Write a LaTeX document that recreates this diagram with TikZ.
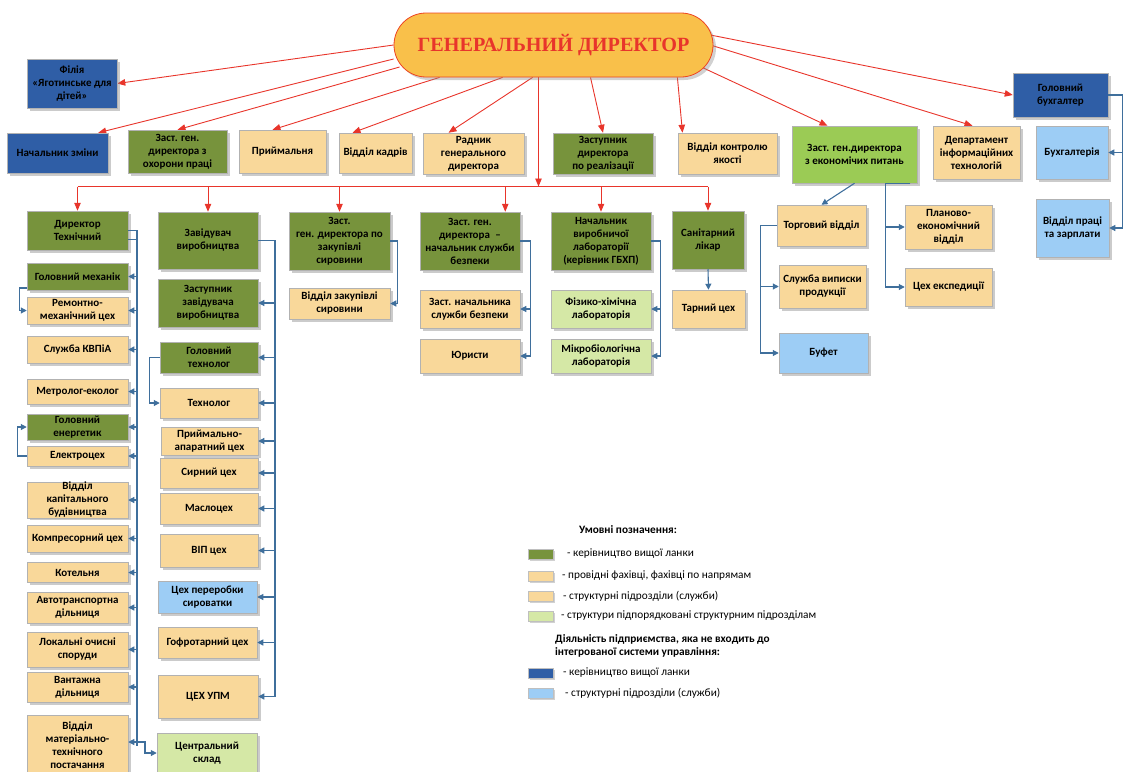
\documentclass[tikz,border=0pt]{standalone}
\usepackage{fontspec}
\setmainfont{Carlito}
\newfontfamily\titlefont{Liberation Serif}
\usetikzlibrary{arrows.meta,shadows,backgrounds}

\definecolor{dgreen}{HTML}{77933C}
\definecolor{sand}{HTML}{F9D89A}
\definecolor{pgreen}{HTML}{D5E8A6}
\definecolor{bgreen}{HTML}{9BCB55}
\definecolor{dblue}{HTML}{2F5EA6}
\definecolor{lblue}{HTML}{9DCDF5}
\definecolor{lnred}{HTML}{E8352B}
\definecolor{lnblue}{HTML}{3F6F9C}
\definecolor{gdfill}{HTML}{F9C04A}

\tikzset{
  box/.style={draw=black!30, line width=.5pt, align=center, inner sep=0pt,
    font=\bfseries\fontsize{11}{13}\selectfont,
    drop shadow={shadow xshift=2.5pt, shadow yshift=-2.5pt, fill=black!45, opacity=.45}},
  wh/.style 2 args={minimum width=#1, minimum height=#2},
  lead/.style={box, fill=dgreen},
  spec/.style={box, fill=sand},
  sub/.style={box, fill=pgreen},
  ecbox/.style={box, fill=bgreen},
  outlead/.style={box, fill=dblue},
  outsub/.style={box, fill=lblue},
  redarr/.style={draw=lnred, line width=.9pt, -{Triangle[length=8pt,width=6.5pt]}},
  redln/.style={draw=lnred, line width=.9pt},
  bluearr/.style={draw=lnblue, line width=1.1pt, -{Triangle[length=6pt,width=6pt]}},
  blueln/.style={draw=lnblue, line width=1.1pt},
  swatch/.style={draw=black!25, line width=.4pt, minimum width=25, minimum height=10, inner sep=0pt,
    drop shadow={shadow xshift=1.5pt, shadow yshift=-1.5pt, fill=black!45, opacity=.4}},
  legtxt/.style={anchor=west, inner sep=0pt, font=\fontsize{11.3}{13}\selectfont},
}

\begin{document}
\begin{tikzpicture}[x=1pt,y=-1pt]
  \useasboundingbox (0,0) rectangle (1134,771);
  \clip (0,0) rectangle (1134,771);

  % director
  \node[draw=lnred!80!orange, fill=gdfill, line width=.8pt, rounded corners=32pt, wh={319}{64},
    drop shadow={shadow xshift=3pt, shadow yshift=-3pt, fill=black!45, opacity=.4},
    font=\titlefont\bfseries\fontsize{20.2}{23}\selectfont, text=lnred] (gd) at (553.5,45) {ГЕНЕРАЛЬНИЙ ДИРЕКТОР};

  % top rows
  \node[outlead, wh={90}{49}] (filia) at (72,83.5) {Філія\\«Яготинське для\\дітей»};
  \node[outlead, wh={101}{40}] (nzm) at (57.5,153) {Начальник зміни};
  \node[lead, wh={99}{43}] (ohor) at (177.5,151.5) {Заст. ген.\\директора з\\охорони праці};
  \node[spec, wh={87}{43}] (pryim) at (282.5,151.5) {Приймальня};
  \node[spec, wh={73}{40}] (kadr) at (375.5,153) {Відділ кадрів};
  \node[spec, wh={101}{41}] (radn) at (473.5,153.5) {Радник\\генерального\\директора};
  \node[lead, wh={100}{41}] (real) at (603,153.5) {Заступник\\директора\\по реалізації};
  \node[spec, wh={99}{41}] (kontr) at (727.5,153.5) {Відділ контролю\\якості};
  \node[ecbox, wh={125}{57}] (ekon) at (854.5,154.5) {Заст. ген.директора\\з економічих питань};
  \node[spec, wh={87}{53}] (dept) at (976.5,152.5) {Департамент\\інформаційних\\технологій};
  \node[outlead, wh={95}{44}] (gbuh) at (1060.5,95) {Головний\\бухгалтер};
  \node[outsub, wh={72}{53}] (buh) at (1072,152.5) {Бухгалтерія};
  \node[outsub, wh={73}{58}] (prac) at (1072.5,228) {Відділ праці\\та зарплати};

  % technical director
  \node[lead, wh={101}{39}] (dt) at (77.5,230.5) {Директор\\Технічний};
  \node[lead, wh={101}{27}] (mech) at (77.5,276.5) {Головний механік};
  \node[spec, wh={101}{27}] (remc) at (77.5,310.5) {Ремонтно-\\механічний цех};
  \node[spec, wh={101}{27}] (kvp) at (77.5,349.5) {Служба КВПіА};
  \node[spec, wh={101}{25}] (metr) at (77.5,391.5) {Метролог-еколог};
  \node[lead, wh={101}{26}] (ener) at (77.5,427) {Головний\\енергетик};
  \node[spec, wh={101}{20}] (elek) at (77.5,456) {Електроцех};
  \node[spec, wh={101}{34}] (kapb) at (77.5,500) {Відділ\\капітального\\будівництва};
  \node[spec, wh={101}{27}] (komp) at (77.5,538.5) {Компресорний цех};
  \node[spec, wh={101}{20}] (kotl) at (77.5,572.5) {Котельня};
  \node[spec, wh={101}{31}] (avto) at (77.5,607.5) {Автотранспортна\\дільниця};
  \node[spec, wh={101}{35}] (lokal) at (77.5,649.5) {Локальні очисні\\споруди};
  \node[spec, wh={101}{30}] (vant) at (77.5,687) {Вантажна\\дільниця};
  \node[spec, wh={101}{61}] (mtp) at (77.5,745.5) {Відділ\\матеріально-\\технічного\\постачання};

  % production
  \node[lead, wh={100}{57}] (zav) at (208,240.5) {Завідувач\\виробництва};
  \node[lead, wh={100}{48}] (zzav) at (208,303) {Заступник\\завідувача\\виробництва};
  \node[lead, wh={98}{31}] (gtech) at (209,357.5) {Головний\\технолог};
  \node[spec, wh={98}{30}] (tech) at (209,403) {Технолог};
  \node[spec, wh={97}{28}] (pryap) at (209.5,441) {Приймально-\\апаратний цех};
  \node[spec, wh={98}{30}] (syr) at (209,473) {Сирний цех};
  \node[spec, wh={98}{31}] (masl) at (209,508.5) {Маслоцех};
  \node[spec, wh={98}{33}] (vip) at (209,550.5) {ВІП цех};
  \node[outsub, wh={99}{32}] (syrov) at (207.5,597) {Цех переробки\\сироватки};
  \node[spec, wh={99}{31}] (gofr) at (207.5,642.5) {Гофротарний цех};
  \node[spec, wh={100}{43}] (upm) at (208,696.5) {ЦЕХ УПМ};
  \node[sub, wh={100}{40}] (sklad) at (207,753) {Центральний\\склад};

  % other deputies
  \node[lead, wh={101}{58}] (zak) at (339.5,241) {Заст.\\ген. директора по\\закупівлі\\сировини};
  \node[spec, wh={101}{31}] (vzak) at (339.5,303.5) {Відділ закупівлі\\сировини};
  \node[lead, wh={100}{58}] (bez) at (470,241) {Заст. ген.\\директора\enspace –\\начальник служби\\безпеки};
  \node[spec, wh={100}{38}] (zbez) at (470,309) {Заст. начальника\\служби безпеки};
  \node[spec, wh={100}{34}] (yur) at (470,356) {Юристи};
  \node[lead, wh={100}{58}] (lab) at (601,241) {Начальник\\виробничої\\лабораторії\\(керівник ГБХП)};
  \node[sub, wh={100}{38}] (fiz) at (601,309) {Фізико-хімічна\\лабораторія};
  \node[sub, wh={100}{34}] (mikr) at (601,356) {Мікробіологічна\\лабораторія};
  \node[lead, wh={72}{58}] (san) at (708,240) {Санітарний\\лікар};
  \node[spec, wh={73}{38}] (tar) at (708.5,309) {Тарний цех};

  % economics
  \node[spec, wh={89}{41}] (torg) at (821.5,225.5) {Торговий відділ};
  \node[spec, wh={87}{43}] (vyp) at (822.5,286.5) {Служба виписки\\продукції};
  \node[outsub, wh={89}{40}] (bufet) at (823.5,353) {Буфет};
  \node[spec, wh={87}{44}] (plan) at (948.5,227) {Планово-\\економічний\\відділ};
  \node[spec, wh={87}{38}] (eksp) at (948.5,287) {Цех експедиції};

  % red lines from the director
  \coordinate (rb) at (538.5,186.5);
  \begin{scope}[on background layer]
    \draw[redarr] (gd.west) -- (filia.east);
    \draw[redarr] ([yshift=-14pt]gd.west) -- ([xshift=-10pt]nzm.north east);
    \draw[redarr] ([xshift=6pt,yshift=-22pt]gd.west) -- (ohor.north);
    \draw[redarr] ([xshift=46pt]gd.south west) -- ([xshift=-10pt]pryim.north);
    \draw[redarr] ([xshift=109pt]gd.south west) -- ([xshift=-23pt]kadr.north);
    \draw[redarr] ([xshift=139pt]gd.south west) -- ([xshift=-25pt]radn.north);
    \draw[redarr] ([xshift=-15pt]gd.south) -- (rb);
    \draw[redarr] ([xshift=37pt]gd.south) -- (real.north);
    \draw[redarr] ([xshift=-36pt]gd.south east) -- ([xshift=-45pt]kontr.north);
    \draw[redarr] ([xshift=-10pt,yshift=-23pt]gd.east) -- ([xshift=-27pt]ekon.north);
    \draw[redarr] ([xshift=-3pt]gd.east) -- ([xshift=-4pt]dept.north);
    \draw[redarr] ([xshift=-3pt,yshift=10pt]gd.east) -- (gbuh.west);
  \end{scope}
  \draw[redln] (dt.north |- rb) -- (san.north |- rb);
  \foreach \n in {dt,zav,zak,lab,san}
    \draw[redarr] (\n.north |- rb) -- (\n.north);
  \draw[redarr] ([xshift=-15pt]bez.north east |- rb) -- ([xshift=-15pt]bez.north east);

  % technical director bus
  \coordinate (b1) at (137,230.5);
  \draw[blueln] (dt.east) -- (b1) -- (b1 |- mtp.east);
  \draw[blueln] ([yshift=-9pt]dt.east) -- ([yshift=-9pt]b1);
  \foreach \n in {mech,remc,kvp,metr,ener,elek,kapb,komp,kotl,avto,lokal,vant}
    \draw[bluearr] (b1 |- \n.east) -- (\n.east);
  \draw[bluearr] (b1 |- 0,742) -- (mtp.east |- 0,742);
  \draw[bluearr] (b1 |- 0,742) -- ++(8,0) |- (sklad.west);
  \draw[bluearr] ([yshift=-11.5pt]mech.west) -- ++(-7,0) |- (remc.west);
  \draw[bluearr] (elek.west) -- ++(-9,0) |- (ener.west);

  % production bus
  \coordinate (b2) at (275,240.5);
  \draw[blueln] (zav.east) -- (b2) -- (b2 |- upm.east);
  \foreach \n in {zzav,gtech,tech,pryap,syr,masl,vip,syrov,gofr,upm}
    \draw[bluearr] (b2 |- \n.east) -- (\n.east);
  \draw[bluearr] (gtech.west) -- ++(-10,0) |- (tech.west);

  % deputies
  \draw[bluearr] (zak.east) -- ++(7,0) |- (vzak.east);
  \draw[bluearr] (bez.east) -- ++(10,0) |- (zbez.east);
  \draw[bluearr] (bez.east) -- ++(10,0) |- (yur.east);
  \draw[bluearr] (lab.east) -- ++(9,0) |- (fiz.east);
  \draw[bluearr] (lab.east) -- ++(9,0) |- (mikr.east);
  \draw[bluearr] (san.south) -- (tar.north);

  % economics
  \draw[bluearr] (ekon.south) -- (torg.north);
  \draw[bluearr] (torg.west) -- ++(-16,0) |- (vyp.west);
  \draw[bluearr] (torg.west) -- ++(-16,0) |- (bufet.west);
  \draw[bluearr] ([xshift=-7pt]ekon.south east) -- ++(-25,0) |- (plan.west);
  \draw[bluearr] ([xshift=-7pt]ekon.south east) -- ++(-25,0) |- (eksp.west);

  % accounting
  \draw[bluearr] (gbuh.east) -- ++(14,0) |- (buh.east);
  \draw[bluearr] (gbuh.east) -- ++(14,0) |- (prac.east);

  % legend
  \node[font=\bfseries\fontsize{11.3}{13}\selectfont] (lgt) at (628,530) {Умовні позначення:};
  \node[swatch, fill=dgreen] (sw1) at (540.5,554) {};
  \node[swatch, fill=sand] (sw2) at (540.5,576) {};
  \node[swatch, fill=sand] (sw3) at (540.5,596) {};
  \node[swatch, fill=pgreen] (sw4) at (540.5,616) {};
  \node[swatch, fill=dblue] (sw5) at (540.5,673) {};
  \node[swatch, fill=lblue] (sw6) at (540.5,693) {};
  \node[legtxt] (lt1) at (567,554) {- керівництво вищої ланки};
  \node[legtxt] (lt2) at (562,576) {- провідні фахівці, фахівці по напрямам};
  \node[legtxt] (lt3) at (563,596) {- структурні підрозділи (служби)};
  \node[legtxt] (lt4) at (561,616) {- структури підпорядковані структурним підрозділам};
  \node[legtxt, anchor=north west, align=left, font=\bfseries\fontsize{11.3}{13}\selectfont] (lt0) at (555,634)
    {Діяльність підприємства, яка не входить до\\інтегрованої системи управління:};
  \node[legtxt] (lt5) at (563,673) {- керівництво вищої ланки};
  \node[legtxt] (lt6) at (565,693) {- структурні підрозділи (служби)};
\end{tikzpicture}
\end{document}
